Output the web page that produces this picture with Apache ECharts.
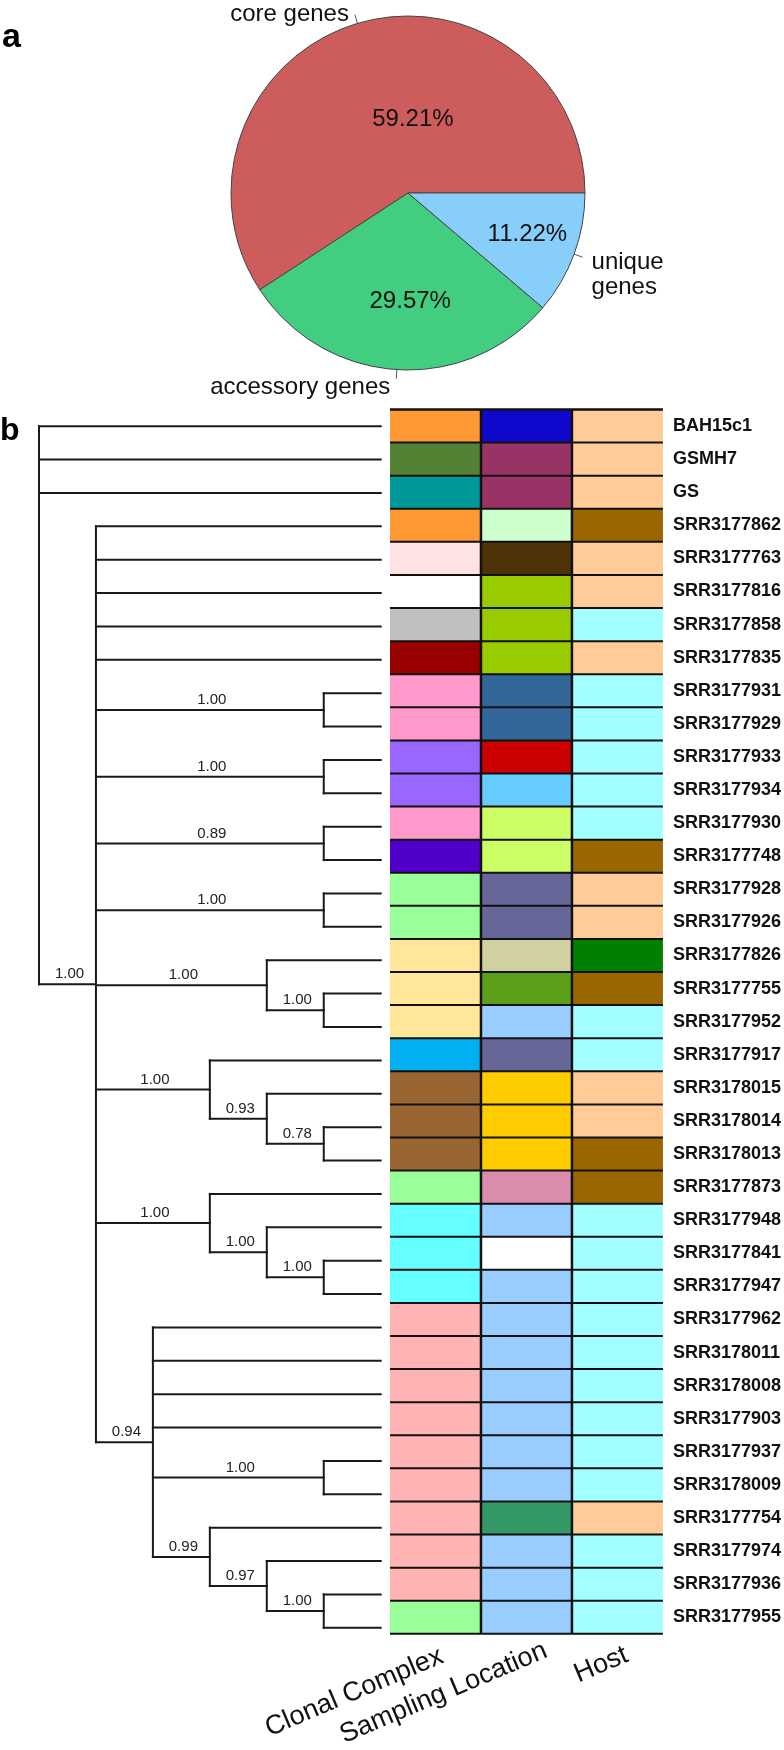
<!DOCTYPE html>
<html>
<head>
<meta charset="utf-8">
<script src="https://cdn.jsdelivr.net/npm/echarts@6/dist/echarts.min.js"></script>
<style>
html,body{margin:0;padding:0;background:#fff;}
#c{width:784px;height:1750px;}
</style>
</head>
<body>
<div id="c"></div>
<script>
// ---------------- data ----------------
const pieNames = ['core genes', 'accessory genes', 'unique genes'];
const pieLabels = ['core genes', 'accessory genes', 'unique\ngenes'];
const pieValues = [59.21, 29.57, 11.22];

const leaves = [
  'BAH15c1','GSMH7','GS','SRR3177862','SRR3177763','SRR3177816','SRR3177858','SRR3177835',
  'SRR3177931','SRR3177929','SRR3177933','SRR3177934','SRR3177930','SRR3177748','SRR3177928',
  'SRR3177926','SRR3177826','SRR3177755','SRR3177952','SRR3177917','SRR3178015','SRR3178014',
  'SRR3178013','SRR3177873','SRR3177948','SRR3177841','SRR3177947','SRR3177962','SRR3178011',
  'SRR3178008','SRR3177903','SRR3177937','SRR3178009','SRR3177754','SRR3177974','SRR3177936',
  'SRR3177955'
];

// topology with posterior support values
const treeNewick = '(BAH15c1,GSMH7,GS,(SRR3177862,SRR3177763,SRR3177816,SRR3177858,SRR3177835,' +
  '(SRR3177931,SRR3177929)1.00,(SRR3177933,SRR3177934)1.00,(SRR3177930,SRR3177748)0.89,' +
  '(SRR3177928,SRR3177926)1.00,(SRR3177826,(SRR3177755,SRR3177952)1.00)1.00,' +
  '(SRR3177917,(SRR3178015,(SRR3178014,SRR3178013)0.78)0.93)1.00,' +
  '(SRR3177873,(SRR3177948,(SRR3177841,SRR3177947)1.00)1.00)1.00,' +
  '(SRR3177962,SRR3178011,SRR3178008,SRR3177903,(SRR3177937,SRR3178009)1.00,' +
  '(SRR3177754,(SRR3177974,(SRR3177936,SRR3177955)1.00)0.97)0.99)0.94)1.00);';

const heatColumns = ['Clonal Complex', 'Sampling Location', 'Host'];

const clonalComplex = [
  'cc01','cc02','cc03','cc01','cc04','cc05','cc06','cc07','cc08','cc08','cc09','cc09','cc08',
  'cc10','cc11','cc11','cc12','cc12','cc12','cc13','cc14','cc14','cc14','cc11','cc15','cc15',
  'cc15','cc16','cc16','cc16','cc16','cc16','cc16','cc16','cc16','cc16','cc11'
];
const samplingLocation = [
  'sl01','sl02','sl02','sl03','sl04','sl05','sl05','sl05','sl06','sl06','sl07','sl08','sl09',
  'sl09','sl10','sl10','sl11','sl12','sl13','sl10','sl14','sl14','sl14','sl15','sl13','sl16',
  'sl13','sl13','sl13','sl13','sl13','sl13','sl13','sl17','sl13','sl13','sl13'
];
const host = [
  'h1','h1','h1','h2','h1','h1','h3','h1','h3','h3','h3','h3','h3','h2','h1','h1','h4','h2',
  'h3','h3','h1','h1','h2','h2','h3','h3','h3','h3','h3','h3','h3','h3','h3','h1','h3','h3','h3'
];

// ---------------- styles ----------------
const pieColors = ['#CD5C5C', '#43CD80', '#87CEFA'];
const palette = {
  cc01:'#FF9933', cc02:'#548235', cc03:'#009999', cc04:'#FFE3E3', cc05:'#FFFFFF', cc06:'#C0C0C0',
  cc07:'#990000', cc08:'#FF99CC', cc09:'#9966FF', cc10:'#5000C8', cc11:'#99FF99', cc12:'#FFE699',
  cc13:'#00B0F0', cc14:'#996633', cc15:'#66FFFF', cc16:'#FFB3B3',
  sl01:'#1008CC', sl02:'#993366', sl03:'#CCFFCC', sl04:'#4D3308', sl05:'#99CC00', sl06:'#336699',
  sl07:'#CC0000', sl08:'#66CCFF', sl09:'#CCFF66', sl10:'#666699', sl11:'#D0D0A0', sl12:'#5CA01A',
  sl13:'#99CCFF', sl14:'#FFCC00', sl15:'#DB8CAC', sl16:'#FFFFFF', sl17:'#339966',
  h1:'#FFCC99', h2:'#996600', h3:'#A3FFFF', h4:'#008000'
};
const outerLabelPad = [[0,0,0,0],[18,0,0,0],[36,0,0,3]];
const innerLabelPad = [[28,0,0,62],[34,0,0,16],[20,0,0,67]];
const columnLabelPad = [[0,-7,0,0],[0,-21,0,0],[0,-10,0,0]];
const FONT = 'Liberation Sans, Arial, Helvetica, sans-serif';

// ---------------- tree layout ----------------
function parseNewick(s) {
  let i = 0;
  function node() {
    const n = { children: [], name: '', support: '' };
    if (s[i] === '(') {
      i++;
      n.children.push(node());
      while (s[i] === ',') { i++; n.children.push(node()); }
      i++;
    }
    let t = '';
    while (i < s.length && ',();'.indexOf(s[i]) < 0) t += s[i++];
    if (n.children.length) n.support = t; else n.name = t;
    return n;
  }
  return node();
}
const treeRoot = parseNewick(treeNewick);
function calcHeight(n) {
  n.h = n.children.length ? 1 + Math.max.apply(null, n.children.map(calcHeight)) : 0;
  return n.h;
}
const treeDepth = calcHeight(treeRoot);
const nodeData = [];
const nodeSupport = [];
function layout(n, parentX) {
  n.x = treeDepth - n.h;
  if (!n.children.length) {
    n.y = leaves.indexOf(n.name) + 1;
    nodeData.push([n.x, n.y, parentX, n.y, n.y]);
  } else {
    n.children.forEach(c => layout(c, n.x));
    const y0 = n.children[0].y, y1 = n.children[n.children.length - 1].y;
    n.y = (y0 + y1) / 2;
    nodeData.push([n.x, n.y, parentX, y0, y1]);
  }
  nodeSupport.push(n.support);
}
layout(treeRoot, 0);

// ---------------- heatmap cells ----------------
const heatCols = [clonalComplex, samplingLocation, host];
const cellData = [];
const cellColor = [];
heatCols.forEach((col, c) => col.forEach((k, r) => { cellData.push([c, r]); cellColor.push(palette[k]); }));

// ---------------- chart ----------------
const chart = echarts.init(document.getElementById('c'), null, { renderer: 'canvas' });
const LINE = '#1a1a1a';
const option = {
  animation: false,
  backgroundColor: '#fff',
  textStyle: { fontFamily: FONT },
  graphic: [
    { type: 'text', left: 2, top: 21, style: { text: 'a', font: 'bold 34px ' + FONT, fill: '#000' } },
    { type: 'text', left: 0, top: 415, style: { text: 'b', font: 'bold 32px ' + FONT, fill: '#000' } }
  ],
  grid: [
    { left: 39, top: 409.5, width: 341.7, height: 1235, containLabel: false },
    { left: 390, top: 409.5, width: 275, height: 1235, containLabel: false }
  ],
  xAxis: [
    { gridIndex: 0, type: 'value', min: 0, max: treeDepth, show: false },
    { gridIndex: 1, type: 'category', position: 'bottom',
      data: heatColumns.map((c, i) => ({ value: c, textStyle: { padding: columnLabelPad[i] } })),
      axisLine: { show: false }, axisTick: { show: false }, splitLine: { show: false },
      axisLabel: { interval: 0, rotate: 23, margin: 24, fontSize: 27, color: '#111', fontFamily: FONT } }
  ],
  yAxis: [
    { gridIndex: 0, type: 'value', min: 0.5, max: leaves.length + 0.5, inverse: true, show: false },
    { gridIndex: 1, type: 'category', data: leaves, inverse: true, position: 'right',
      axisLine: { show: false }, axisTick: { show: false }, splitLine: { show: false },
      axisLabel: { interval: 0, margin: 10, fontSize: 18, fontWeight: 'bold', color: '#111', fontFamily: FONT } }
  ],
  series: [
    {
      type: 'pie', name: 'genes', center: [408, 193], radius: 177,
      startAngle: 0, clockwise: false, avoidLabelOverlap: false, silent: true,
      itemStyle: { borderColor: '#444', borderWidth: 1 },
      label: { show: true, position: 'outside', color: '#111', fontFamily: FONT,
               distanceToLabelLine: 6,
               formatter: p => pieLabels[p.dataIndex].split('\n').map(s => '{t|' + s + '}').join('\n'),
               rich: { t: { fontSize: 24, lineHeight: 25, color: '#111', fontFamily: FONT } } },
      labelLine: { show: true, length: 9, length2: 0, lineStyle: { color: '#555', width: 1 } },
      data: pieNames.map((n, i) => ({ name: n, value: pieValues[i],
        itemStyle: { color: pieColors[i] }, label: { padding: outerLabelPad[i] } }))
    },
    {
      type: 'pie', name: 'pct', center: [408, 193], radius: 177,
      startAngle: 0, clockwise: false, avoidLabelOverlap: false, silent: true,
      itemStyle: { color: 'rgba(0,0,0,0)', borderWidth: 0 },
      label: { show: true, position: 'inside', color: '#111', fontFamily: FONT,
               formatter: '{t|{d}%}',
               rich: { t: { fontSize: 24, lineHeight: 26, color: '#111', fontFamily: FONT } } },
      labelLine: { show: false },
      data: pieNames.map((n, i) => ({ name: n, value: pieValues[i],
        label: { padding: innerLabelPad[i] } }))
    },
    {
      type: 'custom', name: 'tree', xAxisIndex: 0, yAxisIndex: 0, clip: false, silent: true,
      encode: { x: 0, y: 1 },
      data: nodeData,
      renderItem: function (params, api) {
        const x = api.value(0), y = api.value(1), px = api.value(2), y0 = api.value(3), y1 = api.value(4);
        const p = api.coord([x, y]);
        const pp = api.coord([px, y]);
        const children = [];
        if (px !== x) {
          children.push({ type: 'line', shape: { x1: pp[0], y1: pp[1], x2: p[0], y2: p[1] },
            style: { stroke: LINE, lineWidth: 2, lineCap: 'square' } });
        }
        if (y0 !== y1) {
          const a = api.coord([x, y0]), b = api.coord([x, y1]);
          children.push({ type: 'line', shape: { x1: a[0], y1: a[1], x2: b[0], y2: b[1] },
            style: { stroke: LINE, lineWidth: 2, lineCap: 'square' } });
        }
        const sup = nodeSupport[params.dataIndex];
        if (sup && px !== x) {
          children.push({ type: 'text', x: (pp[0] + p[0]) / 2 + 2, y: p[1] - 10,
            style: { text: sup, font: '15px ' + FONT, fill: '#222', align: 'center', verticalAlign: 'middle' } });
        }
        return { type: 'group', children: children };
      }
    },
    {
      type: 'custom', name: 'cells', xAxisIndex: 1, yAxisIndex: 1, silent: true,
      encode: { x: 0, y: 1 },
      data: cellData,
      renderItem: function (params, api) {
        const p = api.coord([api.value(0), api.value(1)]);
        const s = api.size([1, 1]);
        return { type: 'rect', shape: { x: p[0] - s[0] / 2, y: p[1] - s[1] / 2, width: s[0], height: s[1] },
          style: { fill: cellColor[params.dataIndex] } };
      }
    },
    {
      type: 'custom', name: 'cellBorders', xAxisIndex: 1, yAxisIndex: 1, silent: true, z: 5,
      encode: { x: 0, y: 1 },
      data: cellData,
      renderItem: function (params, api) {
        const c = api.value(0), r = api.value(1);
        const p = api.coord([c, r]);
        const s = api.size([1, 1]);
        const l = p[0] - s[0] / 2, rr = p[0] + s[0] / 2, t = p[1] - s[1] / 2, b = p[1] + s[1] / 2;
        const ch = [{ type: 'line', shape: { x1: l, y1: b, x2: rr, y2: b }, style: { stroke: '#111', lineWidth: 2 } }];
        if (r === 0) ch.push({ type: 'line', shape: { x1: l, y1: t, x2: rr, y2: t }, style: { stroke: '#111', lineWidth: 2.5 } });
        if (c > 0) ch.push({ type: 'line', shape: { x1: l, y1: t, x2: l, y2: b }, style: { stroke: '#111', lineWidth: 2.5 } });
        return { type: 'group', children: ch };
      }
    }
  ]
};
chart.setOption(option);
</script>
</body>
</html>
